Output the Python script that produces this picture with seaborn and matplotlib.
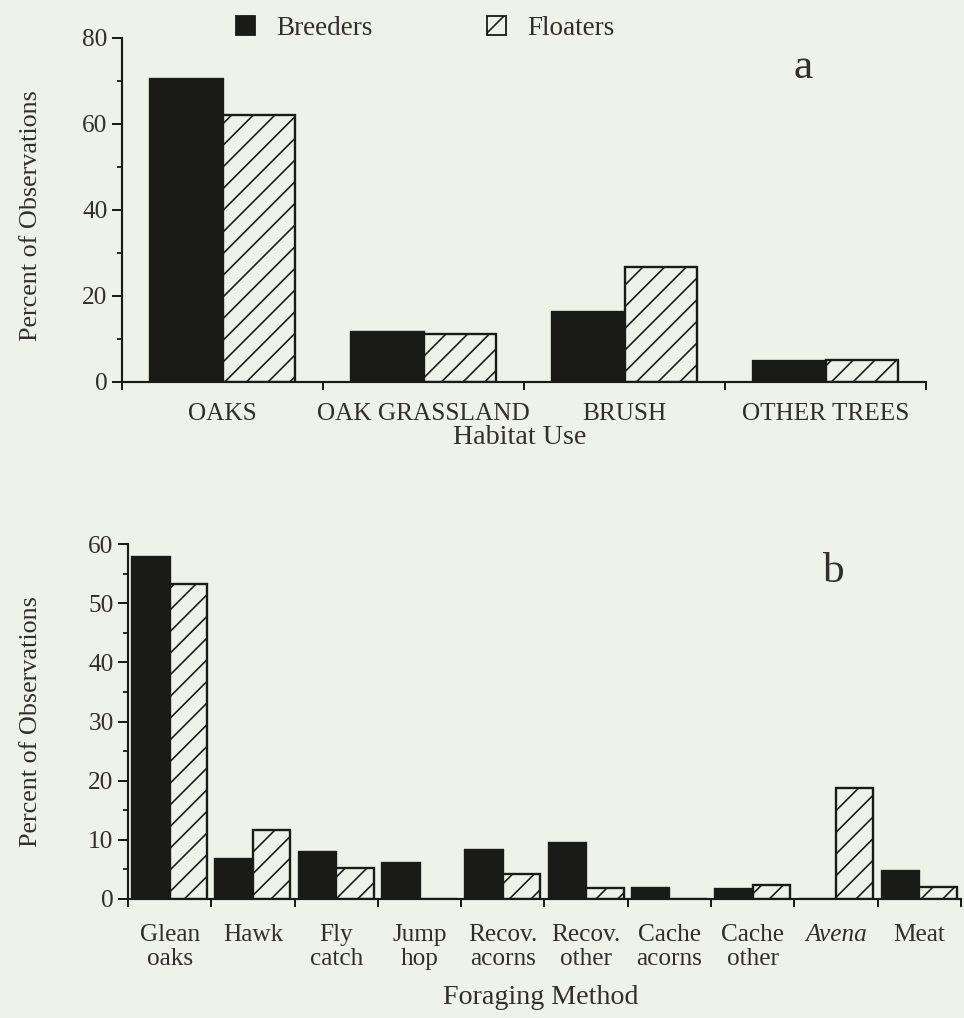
import numpy as np
import pandas as pd
import matplotlib
matplotlib.use("Agg")
import matplotlib.pyplot as plt
from matplotlib.patches import Patch
from matplotlib.ticker import MultipleLocator, FixedLocator
import seaborn as sns

# panel a - habitat use
habitats = ["OAKS", "OAK GRASSLAND", "BRUSH", "OTHER TREES"]
habitat_breeders = [70.5, 11.6, 16.2, 4.8]
habitat_floaters = [62.0, 11.1, 26.7, 5.2]

# panel b - foraging method
methods = ["Glean\noaks", "Hawk", "Fly\ncatch", "Jump\nhop", "Recov.\nacorns",
           "Recov.\nother", "Cache\nacorns", "Cache\nother", "Avena", "Meat"]
method_breeders = [57.8, 6.7, 7.9, 6.1, 8.2, 9.5, 1.8, 1.7, 0.0, 4.8]
method_floaters = [53.3, 11.6, 5.3, 0.0, 4.3, 1.8, 0.0, 2.3, 18.8, 2.0]

groups = ["Breeders", "Floaters"]

BG = "#eef2e8"
DARK = "#1a1a16"
TEXT = "#322e2c"

sns.set_style("ticks")
plt.rcParams["font.family"] = ["Liberation Serif", "DejaVu Serif"]
plt.rcParams["hatch.linewidth"] = 0.9
plt.rcParams["text.color"] = TEXT
plt.rcParams["axes.labelcolor"] = TEXT
plt.rcParams["xtick.color"] = DARK
plt.rcParams["ytick.color"] = DARK
plt.rcParams["xtick.labelcolor"] = TEXT
plt.rcParams["ytick.labelcolor"] = TEXT


def long_form(cats, breeders, floaters):
    return pd.DataFrame({
        "cat": list(cats) * 2,
        "pct": list(breeders) + list(floaters),
        "group": ["Breeders"] * len(cats) + ["Floaters"] * len(cats),
    })


def draw_panel(ax, cats, breeders, floaters, width, ymax, major, minor, xpad):
    df = long_form(cats, breeders, floaters)
    sns.barplot(data=df, x="cat", y="pct", hue="group", order=cats,
                hue_order=groups, palette={"Breeders": DARK, "Floaters": BG},
                width=width, saturation=1, edgecolor=DARK, linewidth=1.3,
                legend=False, ax=ax)
    for bar in ax.containers[1]:
        bar.set_hatch("//")
    ax.set_facecolor(BG)
    ax.set_xlim(-0.5, len(cats) - 0.5)
    ax.set_ylim(0, ymax)
    sns.despine(ax=ax)
    for side in ["left", "bottom"]:
        ax.spines[side].set_color(DARK)
        ax.spines[side].set_linewidth(1.2)
    ax.yaxis.set_major_locator(MultipleLocator(major))
    ax.yaxis.set_minor_locator(MultipleLocator(minor))
    ax.tick_params(axis="y", which="major", length=5.5, width=1.1, pad=2.5, labelsize=14)
    ax.tick_params(axis="y", which="minor", length=2.8, width=1.0)
    ax.xaxis.set_minor_locator(FixedLocator(np.arange(-0.5, len(cats), 1.0)))
    ax.tick_params(axis="x", which="minor", length=4.5, width=1.1)
    ax.tick_params(axis="x", which="major", length=0, pad=xpad, labelsize=14)
    ax.set_ylabel("Percent of Observations", fontsize=14.5)


fig = plt.figure(figsize=(964 / 130, 1018 / 130), dpi=130, facecolor=BG)
ax_a = fig.add_axes([0.1266, 0.6248, 0.834, 0.338])
ax_b = fig.add_axes([0.1328, 0.1169, 0.864, 0.3487])

draw_panel(ax_a, habitats, habitat_breeders, habitat_floaters, 0.72, 80, 20, 10, 11.5)
draw_panel(ax_b, methods, method_breeders, method_floaters, 0.9, 60, 10, 5, 14)

for lab in ax_b.get_xticklabels():
    lab.set_linespacing(1.12)
    if lab.get_text() == "Avena":
        lab.set_style("italic")

ax_a.set_xlabel("Habitat Use", fontsize=15.5)
ax_a.xaxis.set_label_coords(0.495, -0.16)
ax_a.xaxis.label.set_va("center")
ax_a.yaxis.set_label_coords(-0.099, 0.485)

ax_b.set_xlabel("Foraging Method", fontsize=15.5)
ax_b.xaxis.set_label_coords(0.495, -0.277)
ax_b.xaxis.label.set_va("center")
ax_b.yaxis.set_label_coords(-0.1036, 0.499)

ax_a.text(0.847, 0.913, "a", transform=ax_a.transAxes, fontsize=24,
          ha="center", va="center")
ax_b.text(0.846, 0.921, "b", transform=ax_b.transAxes, fontsize=24,
          ha="center", va="center")

handles = [Patch(facecolor=DARK, edgecolor=DARK),
           Patch(facecolor=BG, edgecolor=DARK, hatch="//")]
fig.legend(handles, groups, loc="center", bbox_to_anchor=(0.441, 0.972),
           ncol=2, frameon=False, fontsize=15, handlelength=0.7,
           handleheight=0.7, handletextpad=0.8, columnspacing=4.2)

fig.savefig("out.png", dpi=130, facecolor=BG)
